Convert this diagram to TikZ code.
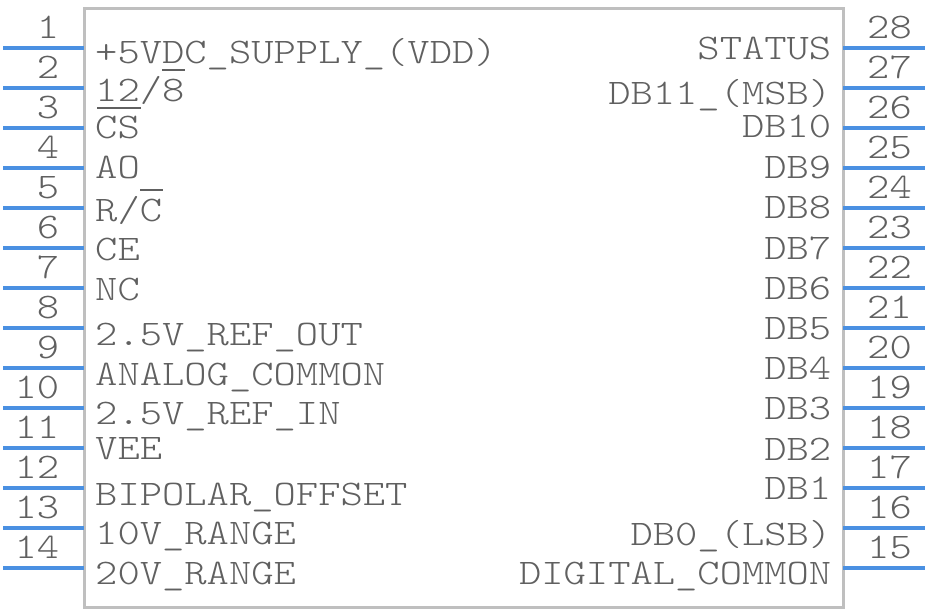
\documentclass[tikz,border=0pt]{standalone}
\usepackage{fontspec}
\newfontfamily\lmlight{Latin Modern Mono Light}
\definecolor{pinblue}{RGB}{74,144,226}
\definecolor{bodygray}{RGB}{191,191,191}
\definecolor{txtgray}{RGB}{96,96,96}
\begin{document}
\begin{tikzpicture}[x=1pt,y=-1pt,
  pinline/.style={draw=pinblue,line width=3.3pt},
  body/.style={draw=bodygray,line width=3.3pt},
  txt/.style={inner sep=0pt,text=txtgray,xscale=1.18,font=\lmlight\fontsize{36}{40}\selectfont},
  lbl/.style={txt,anchor=base west},
  rlbl/.style={txt,anchor=base east},
  bar/.style={draw=txtgray,line width=2pt}]
\useasboundingbox (0,0) rectangle (928,612);
\coordinate (tl) at (84.3,8.3);
\coordinate (br) at (843.3,607.7);
\draw[body] (tl) rectangle (br);
\foreach \i in {1,...,14}{
  \pgfmathsetmacro\yy{48+40*(\i-1)}
  \pgfmathtruncatemacro\j{29-\i}
  \coordinate (L\i a) at (3,\yy);
  \coordinate (L\i b) at (84.3,\yy);
  \draw[pinline] (L\i a) -- (L\i b);
  \node[txt,anchor=base east] (nL\i) at (59.5,\yy-9.5) {\i};
  \coordinate (R\j a) at (843.3,\yy);
  \coordinate (R\j b) at (925,\yy);
  \draw[pinline] (R\j a) -- (R\j b);
  \node[txt,anchor=base west] (nR\j) at (867,\yy-9.5) {\j};
}
% left labels
\node[lbl] (l1) at (95,64) {+5VDC\_SUPPLY\_(VDD)};
\node[lbl] (l2) at (95,102) {12/8};
\node[lbl] (l3) at (95,139) {CS};
\node[lbl] (l4) at (95,179) {AO};
\node[lbl] (l5) at (95,222) {R/C};
\node[lbl] (l6) at (95,260) {CE};
\node[lbl] (l7) at (95,300) {NC};
\node[lbl] (l8) at (95,345) {2.5V\_REF\_OUT};
\node[lbl] (l9) at (95,385) {ANALOG\_COMMON};
\node[lbl] (l10) at (95,424) {2.5V\_REF\_IN};
\node[lbl] (l11) at (95,459) {VEE};
\node[lbl] (l12) at (95,505) {BIPOLAR\_OFFSET};
\node[lbl] (l13) at (95,544) {10V\_RANGE};
\node[lbl] (l14) at (95,584) {20V\_RANGE};
% right labels
\node[rlbl] (r28) at (831.5,60) {STATUS};
\node[rlbl] (r27) at (831.5,105) {DB11\_(MSB)};
\node[rlbl] (r26) at (831.5,138) {DB10};
\node[rlbl] (r25) at (831.5,179) {DB9};
\node[rlbl] (r24) at (831.5,219) {DB8};
\node[rlbl] (r23) at (831.5,259) {DB7};
\node[rlbl] (r22) at (831.5,299) {DB6};
\node[rlbl] (r21) at (831.5,339) {DB5};
\node[rlbl] (r20) at (831.5,379) {DB4};
\node[rlbl] (r19) at (831.5,419) {DB3};
\node[rlbl] (r18) at (831.5,460) {DB2};
\node[rlbl] (r17) at (831.5,499) {DB1};
\node[rlbl] (r16) at (831.5,545) {DB0\_(LSB)};
\node[rlbl] (r15) at (831.5,584) {DIGITAL\_COMMON};
% overbars
\coordinate (b1a) at (162,70); \coordinate (b1b) at (185,70);
\coordinate (b2a) at (97,108); \coordinate (b2b) at (141,108);
\coordinate (b3a) at (140,190); \coordinate (b3b) at (163,190);
\draw[bar] (b1a) -- (b1b);
\draw[bar] (b2a) -- (b2b);
\draw[bar] (b3a) -- (b3b);
\end{tikzpicture}
\end{document}
